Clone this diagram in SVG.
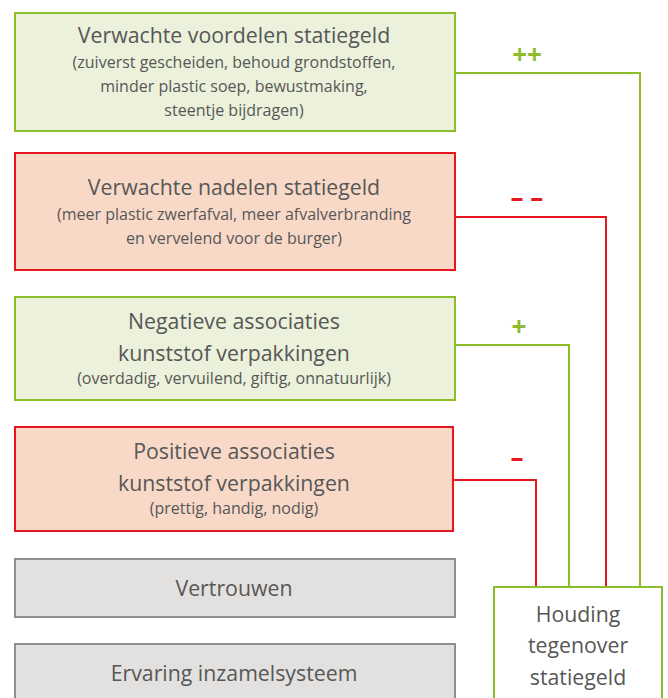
<svg xmlns="http://www.w3.org/2000/svg" width="668" height="698" viewBox="0 0 668 698">
<style>
.t{font-family:"Open Sans","Noto Sans",sans-serif;fill:#575757;text-anchor:middle}
.h{font-size:21.3px}
.s{font-size:16px}
.g{fill:#ebf1da;stroke:#8dbd2b;stroke-width:2}
.r{fill:#f8d9c8;stroke:#e3171d;stroke-width:2}
.n{fill:#e3e1df;stroke:#8f8f8f;stroke-width:2}
.w{fill:#ffffff;stroke:#8dbd2b;stroke-width:2}
.cg{fill:none;stroke:#8dbd2b;stroke-width:2}
.cr{fill:none;stroke:#e3171d;stroke-width:2}
.lg{font-family:"Open Sans","Noto Sans",sans-serif;font-weight:bold;font-size:26px;fill:#8dbd2b;text-anchor:middle}
.lr{font-family:"Open Sans","Noto Sans",sans-serif;font-weight:bold;font-size:26px;fill:#e3171d;text-anchor:middle}
</style>
<rect width="668" height="698" fill="#ffffff"/>
<g id="connectors">
<polyline class="cg" points="455,73 640,73 640,587"/>
<polyline class="cr" points="455,217 606,217 606,587"/>
<polyline class="cg" points="455,345 569,345 569,587"/>
<polyline class="cr" points="454,480 536,480 536,587"/>
<text class="lg" x="527" y="64">++</text>
<text class="lr" x="527" y="207">– –</text>
<text class="lg" x="519" y="336">+</text>
<text class="lr" x="517" y="467">–</text>
</g>
<g id="voordelen">
<rect class="g" x="15" y="13" width="440" height="118"/>
<text class="t h" x="234" y="43">Verwachte voordelen statiegeld</text>
<text class="t s" x="234" y="68">(zuiverst gescheiden, behoud grondstoffen,</text>
<text class="t s" x="234" y="92">minder plastic soep, bewustmaking,</text>
<text class="t s" x="234" y="116">steentje bijdragen)</text>
</g>
<g id="nadelen">
<rect class="r" x="15" y="153" width="440" height="117"/>
<text class="t h" x="234" y="195">Verwachte nadelen statiegeld</text>
<text class="t s" x="234" y="220">(meer plastic zwerfafval, meer afvalverbranding</text>
<text class="t s" x="234" y="244">en vervelend voor de burger)</text>
</g>
<g id="negatieve">
<rect class="g" x="15" y="297" width="440" height="103"/>
<text class="t h" x="234" y="329">Negatieve associaties</text>
<text class="t h" x="234" y="361">kunststof verpakkingen</text>
<text class="t s" x="234" y="384">(overdadig, vervuilend, giftig, onnatuurlijk)</text>
</g>
<g id="positieve">
<rect class="r" x="15" y="427" width="438" height="104"/>
<text class="t h" x="234" y="459">Positieve associaties</text>
<text class="t h" x="234" y="491">kunststof verpakkingen</text>
<text class="t s" x="234" y="514">(prettig, handig, nodig)</text>
</g>
<g id="vertrouwen">
<rect class="n" x="15" y="559" width="440" height="58"/>
<text class="t h" x="234" y="596">Vertrouwen</text>
</g>
<g id="ervaring">
<rect class="n" x="15" y="644" width="440" height="60"/>
<text class="t h" x="234" y="681">Ervaring inzamelsysteem</text>
</g>
<g id="houding">
<rect class="w" x="494" y="587" width="168" height="117"/>
<text class="t h" x="578" y="622">Houding</text>
<text class="t h" x="578" y="653">tegenover</text>
<text class="t h" x="578" y="685">statiegeld</text>
</g>
</svg>
